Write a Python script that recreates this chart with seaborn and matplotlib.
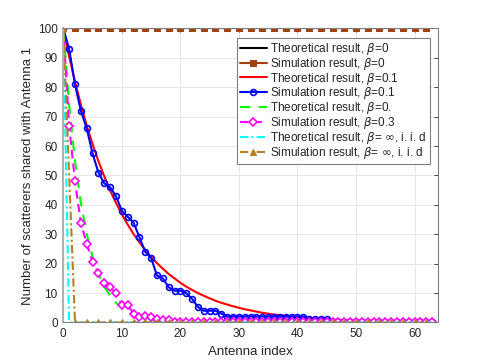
import numpy as np
import pandas as pd
import matplotlib
matplotlib.use("Agg")
import matplotlib.pyplot as plt
import seaborn as sns

# ---------------- data ----------------
idx_all = list(range(64))
idx_even = list(range(0, 63, 2))

theo_b0 = [100.0] * 64
sim_b0 = [100.0] * len(idx_even)

theo_b01 = [100.0, 90.5, 81.9, 74.1, 67.0, 60.7, 54.9, 49.7, 44.9, 40.7,
            36.8, 33.3, 30.1, 27.3, 24.7, 22.3, 20.2, 18.3, 16.5, 15.0,
            13.5, 12.2, 11.1, 10.0, 9.1, 8.2, 7.4, 6.7, 6.1, 5.5,
            5.0, 4.5, 4.1, 3.7, 3.3, 3.0, 2.7, 2.5, 2.2, 2.0,
            1.8, 1.7, 1.5, 1.4, 1.2, 1.1, 1.0, 0.9, 0.8, 0.7,
            0.7, 0.6, 0.6, 0.5, 0.5, 0.4, 0.4, 0.3, 0.3, 0.3,
            0.2, 0.2, 0.2, 0.2]
sim_b01 = [100, 93, 81, 72, 66, 57.5, 51, 47.3, 46, 43,
           38, 36, 34, 29, 24, 22, 16, 15, 12, 10.8,
           10.8, 10, 8, 5.3, 4, 4, 4, 3, 2, 2,
           2, 2, 2, 2, 2, 2, 2, 2, 2, 2,
           2, 2, 1.3, 1.3, 1.3, 1.3, 0, 0, 0, 0,
           0, 0, 0, 0, 0, 0, 0, 0, 0, 0,
           0, 0, 0, 0]
theo_b03 = [100.0, 74.1, 54.9, 40.7, 30.1, 22.3, 16.5, 12.2, 9.1, 6.7,
            5.0, 3.7, 2.7, 2.0, 1.5, 1.1, 0.8, 0.6, 0.5, 0.3,
            0.2, 0.2, 0.1, 0.1, 0.1, 0.1, 0, 0, 0, 0,
            0, 0, 0, 0, 0, 0, 0, 0, 0, 0,
            0, 0, 0, 0, 0, 0, 0, 0, 0, 0,
            0, 0, 0, 0, 0, 0, 0, 0, 0, 0,
            0, 0, 0, 0]
sim_b03 = [100, 67, 48, 34, 26.7, 20.7, 16.7, 13.5, 12, 10,
           6, 6, 3, 1.9, 2.2, 1.9, 1.3, 0.8, 0.8, 0,
           0, 0, 0, 0, 0, 0, 0, 0, 0, 0,
           0, 0, 0, 0, 0, 0, 0, 0, 0, 0,
           0, 0, 0, 0, 0, 0, 0, 0, 0, 0,
           0, 0, 0, 0, 0, 0, 0, 0, 0, 0,
           0, 0, 0, 0]
theo_inf = [100.0] + [0.0] * 63
sim_inf = [100.0] + [0.0] * (len(idx_even) - 1)

xticks = [0, 10, 20, 30, 40, 50, 60]
yticks = [0, 10, 20, 30, 40, 50, 60, 70, 80, 90, 100]

labels = ["Theoretical result, $\\beta$=0",
          "Simulation result, $\\beta$=0",
          "Theoretical result, $\\beta$=0.1",
          "Simulation result, $\\beta$=0.1",
          "Theoretical result, $\\beta$=0.",
          "Simulation result, $\\beta$=0.3",
          "Theoretical result, $\\beta$= $\\infty$, i. i. d",
          "Simulation result, $\\beta$= $\\infty$, i. i. d"]

# ---------------- style ----------------
sns.set_theme(style="white")
plt.rcParams['font.family'] = ['Liberation Sans', 'DejaVu Sans']
plt.rcParams['mathtext.fontset'] = 'dejavusans'

fig = plt.figure(figsize=(4.85, 3.63), dpi=100)
ax = fig.add_axes([0.1305, 0.1116, 0.903 - 0.1305, 0.9215 - 0.1116])

brown = '#A3400F'
gold = '#B8801A'
lw = 1.5

sns.lineplot(x=idx_all, y=theo_b0, ax=ax, color='black', lw=lw, label=labels[0])
sns.lineplot(x=idx_even, y=sim_b0, ax=ax, color=brown, lw=lw, marker='s',
             markersize=3.8, markeredgecolor=brown, label=labels[1])
sns.lineplot(x=idx_all, y=theo_b01, ax=ax, color='#FF0000', lw=lw, label=labels[2])
sns.lineplot(x=idx_all, y=sim_b01, ax=ax, color='#0000FF', lw=lw, marker='o',
             markersize=4.2, markerfacecolor='none', markeredgecolor='#0000FF',
             markeredgewidth=1.2, label=labels[3])
sns.lineplot(x=idx_all, y=theo_b03, ax=ax, color='#00FF00', lw=lw,
             linestyle=(0, (5, 4)), label=labels[4])
sns.lineplot(x=idx_all, y=sim_b03, ax=ax, color='#FF00FF', lw=lw, marker='D',
             markersize=3.6, markerfacecolor='white', markeredgecolor='#FF00FF',
             markeredgewidth=1.2, linestyle=(0, (4, 2.5)), label=labels[5])
sns.lineplot(x=idx_all, y=theo_inf, ax=ax, color='#00FFFF', lw=lw,
             linestyle=(0, (4, 1.5, 1, 1.5)), label=labels[6])
sns.lineplot(x=idx_even, y=sim_inf, ax=ax, color=gold, lw=lw, marker='^',
             markersize=4.8, markeredgecolor=gold,
             linestyle=(0, (4, 1.5, 1, 1.5)), label=labels[7])

ax.set_xlim(0, 64)
ax.set_ylim(0, 100)
ax.set_xticks(xticks)
ax.set_yticks(yticks)
ax.tick_params(direction='in', length=3, width=0.6, top=True, right=True,
               labelsize=8.5, colors='#262626', pad=4)
ax.grid(True, color='#E6E6E6', lw=0.7)
for s in ax.spines.values():
    s.set_color('#808080')
    s.set_linewidth(0.8)
ax.spines['left'].set_color('#B0B0B0')
ax.spines['left'].set_linewidth(1.5)

ax.set_xlabel("Antenna index", fontsize=9.5, color='#262626', labelpad=4)
ax.set_ylabel("Number of scatterers shared with Antenna 1", fontsize=9.5,
              color='#262626', labelpad=3)

leg = ax.legend(loc='upper right', bbox_to_anchor=(430 / 485, 1 - 38 / 363),
                bbox_transform=fig.transFigure, fontsize=8.5, frameon=True,
                fancybox=False, edgecolor='#808080', framealpha=1,
                handlelength=2.3, handletextpad=0.3, labelspacing=-0.1,
                borderpad=0.25, borderaxespad=0)
leg.get_frame().set_linewidth(0.8)

fig.savefig("out.png", dpi=100)
